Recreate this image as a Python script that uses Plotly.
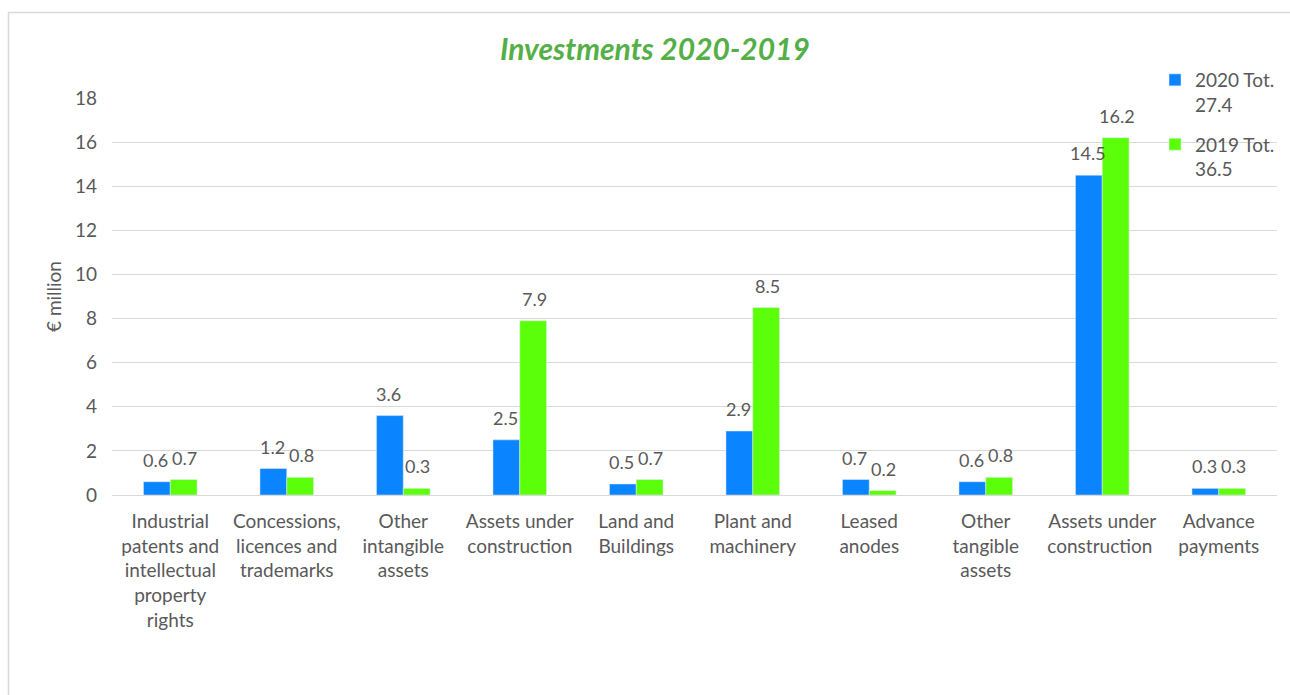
import plotly.graph_objects as go

categories = [
    "Industrial<br>patents and<br>intellectual<br>property<br>rights",
    "Concessions,<br>licences and<br>trademarks",
    "Other<br>intangible<br>assets",
    "Assets under<br>construction",
    "Land and<br>Buildings",
    "Plant and<br>machinery",
    "Leased<br>anodes",
    "Other<br>tangible<br>assets",
    "Assets under<br>construction ",
    "Advance<br>payments",
]
values_2020 = [0.6, 1.2, 3.6, 2.5, 0.5, 2.9, 0.7, 0.6, 14.5, 0.3]
values_2019 = [0.7, 0.8, 0.3, 7.9, 0.7, 8.5, 0.2, 0.8, 16.2, 0.3]
name_2020 = "2020 Tot.<br>27.4"
name_2019 = "2019 Tot.<br>36.5"
y_ticks = [0, 2, 4, 6, 8, 10, 12, 14, 16, 18]

FONT = "Lato, 'Open Sans', sans-serif"
GREY = "#595959"
BLUE = "#0A84FF"
GREEN = "#5CFF0A"

L, R, T, B = 112, 13, 98, 200
W, H = 1290, 695
pw, ph = W - L - R, H - T - B
BARGAP = 0.54
# half the width of one bar in pixels, used to centre labels over each bar
half_bar = pw / len(categories) * (1 - BARGAP) / 4

fig = go.Figure()
fig.add_trace(go.Bar(x=categories, y=values_2020, name=name_2020,
                     legendgroup="a", marker_color=BLUE))
fig.add_trace(go.Bar(x=categories, y=values_2019, name=name_2019,
                     legendgroup="b", marker_color=GREEN))

# value labels above each bar
annotations = []
for cat, v20, v19 in zip(categories, values_2020, values_2019):
    for v, dx in ((v20, -half_bar - 1), (v19, half_bar + 1)):
        annotations.append(dict(
            x=cat, y=v, xref="x", yref="y", text=f"{v:.1f}",
            showarrow=False, xanchor="center", yanchor="bottom",
            xshift=dx, yshift=9,
            font=dict(size=18, color=GREY, family=FONT),
        ))


def px_x(p):
    return (p - L) / pw


def px_y(p):
    return (H - B - p) / ph


fig.update_layout(
    width=W, height=H,
    margin=dict(l=L, r=R, t=T, b=B, autoexpand=False),
    paper_bgcolor="white", plot_bgcolor="white",
    font=dict(family=FONT, color=GREY, size=19),
    barmode="group", bargap=BARGAP, bargroupgap=0,
    title=dict(
        text="<b><i>Investments 2020-2019</i></b>",
        x=655 / W, xanchor="center", y=1 - 49 / H, yanchor="middle",
        font=dict(size=30, color="#55AF47", family=FONT),
    ),
    legend=dict(
        x=px_x(1155), y=px_y(61), xanchor="left", yanchor="top",
        font=dict(size=19, color=GREY, family=FONT), valign="top",
        tracegroupgap=12, itemwidth=30, bgcolor="rgba(0,0,0,0)",
    ),
    showlegend=True,
    xaxis=dict(
        tickfont=dict(size=19, color=GREY), showgrid=False,
        showline=True, linecolor="#D9D9D9", linewidth=1,
        ticks="", ticklabelstandoff=9,
    ),
    yaxis=dict(
        range=[0, 18], tickvals=y_ticks,
        tickfont=dict(size=19, color=GREY),
        gridcolor="#D9D9D9", gridwidth=1, zeroline=False,
        title=dict(text="€ million", font=dict(size=19, color=GREY), standoff=8),
        ticklabelstandoff=14,
    ),
    annotations=annotations,
    shapes=[dict(
        type="rect", xref="paper", yref="paper",
        x0=px_x(8.5), x1=px_x(1300), y0=px_y(12.5), y1=px_y(710),
        line=dict(color="#D9D9D9", width=1.5), layer="below",
    )],
)

fig.write_html("out.html")
